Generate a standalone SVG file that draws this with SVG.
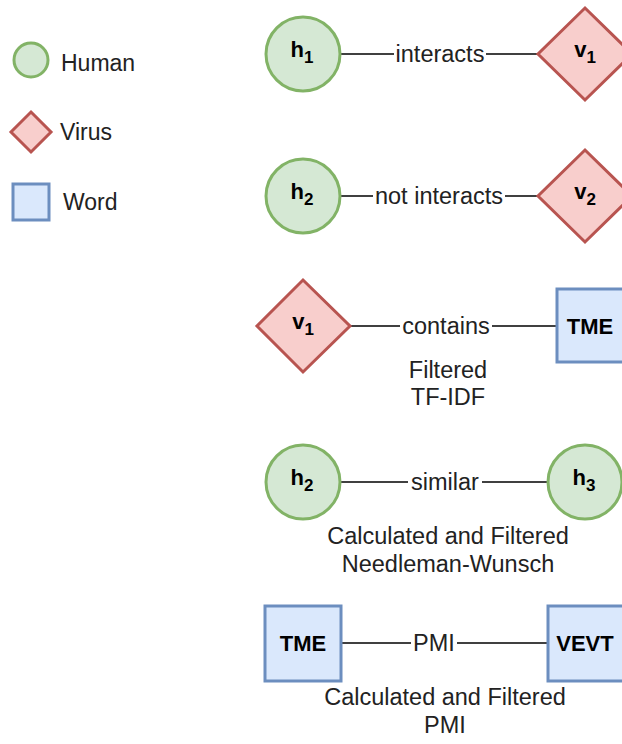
<svg xmlns="http://www.w3.org/2000/svg" width="622" height="744" viewBox="0 0 622 744">
<style>
text{font-family:"Liberation Sans",Arial,sans-serif;fill:#222}
.lbl{font-size:23.5px;text-anchor:middle}
.leg{font-size:23px}
.nl{font-size:22px;font-weight:bold;text-anchor:middle;fill:#000}
.sub{font-size:17px}
.hum{fill:#d5e8d4;stroke:#82b366;stroke-width:3}
.vir{fill:#f8cecc;stroke:#b85450;stroke-width:3}
.wrd{fill:#dae8fc;stroke:#6c8ebf;stroke-width:3}
.edge{stroke:#000;stroke-width:1.6;fill:none}
.bg{fill:#fff}
</style>
<rect width="622" height="744" fill="#fff"/>
<g id="legend">
<circle class="hum" cx="31" cy="60" r="17"/>
<text class="leg" x="61" y="71">Human</text>
<polygon class="vir" points="31,112 51,132 31,152 11,132"/>
<text class="leg" x="60" y="140">Virus</text>
<rect class="wrd" x="13" y="184" width="36" height="36"/>
<text class="leg" x="63" y="210">Word</text>
</g>
<g id="connectors">
<line class="edge" x1="341" y1="54" x2="538" y2="54"/>
<line class="edge" x1="341" y1="196" x2="538" y2="196"/>
<line class="edge" x1="350" y1="326" x2="557" y2="326"/>
<line class="edge" x1="341" y1="482" x2="548" y2="482"/>
<line class="edge" x1="341" y1="643" x2="548" y2="643"/>
</g>
<g id="edge-labels">
<rect class="bg" x="394" y="40" width="92" height="28"/>
<text class="lbl" x="440" y="62">interacts</text>
<rect class="bg" x="373" y="182" width="132" height="28"/>
<text class="lbl" x="439" y="204">not interacts</text>
<rect class="bg" x="400" y="312" width="92" height="28"/>
<text class="lbl" x="446" y="334">contains</text>
<rect class="bg" x="408" y="468" width="74" height="28"/>
<text class="lbl" x="445" y="490">similar</text>
<rect class="bg" x="411" y="629" width="46" height="28"/>
<text class="lbl" x="434" y="651">PMI</text>
<text class="lbl" x="448" y="378">Filtered</text>
<text class="lbl" x="448" y="405">TF-IDF</text>
<text class="lbl" x="448" y="544">Calculated and Filtered</text>
<text class="lbl" x="448" y="572">Needleman-Wunsch</text>
<text class="lbl" x="445" y="705">Calculated and Filtered</text>
<text class="lbl" x="445" y="733">PMI</text>
</g>
<g id="h1">
<circle class="hum" cx="303" cy="54" r="37"/>
<text class="nl" x="302" y="57">h<tspan class="sub" dy="6">1</tspan></text>
</g>
<g id="v1a">
<polygon class="vir" points="585,8 632,54 585,100 538,54"/>
<text class="nl" x="585" y="57">v<tspan class="sub" dy="6">1</tspan></text>
</g>
<g id="h2a">
<circle class="hum" cx="303" cy="196" r="37"/>
<text class="nl" x="302" y="199">h<tspan class="sub" dy="6">2</tspan></text>
</g>
<g id="v2">
<polygon class="vir" points="585,150 632,196 585,242 538,196"/>
<text class="nl" x="585" y="199">v<tspan class="sub" dy="6">2</tspan></text>
</g>
<g id="v1b">
<polygon class="vir" points="303,280 350,326 303,372 257,326"/>
<text class="nl" x="303" y="329">v<tspan class="sub" dy="6">1</tspan></text>
</g>
<g id="tme1">
<rect class="wrd" x="557" y="289" width="75" height="73"/>
<text class="nl" x="590" y="334">TME</text>
</g>
<g id="h2b">
<circle class="hum" cx="303" cy="482" r="37"/>
<text class="nl" x="302" y="485">h<tspan class="sub" dy="6">2</tspan></text>
</g>
<g id="h3">
<circle class="hum" cx="585" cy="482" r="37"/>
<text class="nl" x="584" y="485">h<tspan class="sub" dy="6">3</tspan></text>
</g>
<g id="tme2">
<rect class="wrd" x="265" y="606" width="76" height="75"/>
<text class="nl" x="303" y="651">TME</text>
</g>
<g id="vevt">
<rect class="wrd" x="548" y="606" width="76" height="75"/>
<text class="nl" x="585" y="651">VEVT</text>
</g>
</svg>
